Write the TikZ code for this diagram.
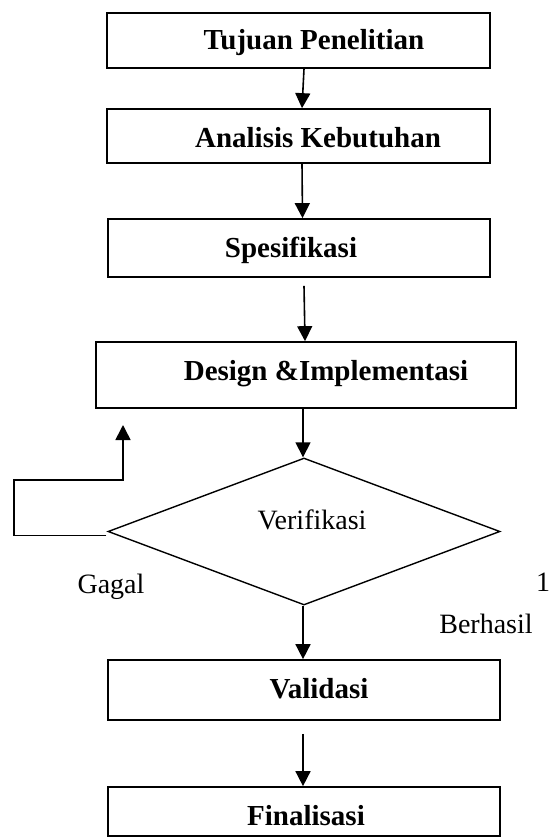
\documentclass[tikz,border=0pt]{standalone}
\usepackage{fontspec}
\setmainfont{Liberation Serif}
\usetikzlibrary{shapes.geometric,arrows.meta}
\tikzset{
  boxnode/.style={draw=black, line width=1.7pt, rectangle, inner sep=0pt},
  decnode/.style={draw=black, line width=1.4pt, diamond, inner sep=0pt},
  boldtxt/.style={inner sep=0pt, anchor=base, font=\fontsize{29}{34}\selectfont\bfseries},
  regtxt/.style={inner sep=0pt, anchor=base, font=\fontsize{28}{33}\selectfont},
  conn/.style={draw=black, line width=1.6pt},
  arr/.style={conn, -{Triangle[width=15pt,length=15pt]}}
}
\begin{document}
\begin{tikzpicture}[x=1pt,y=-1pt]
\useasboundingbox (0,0) rectangle (554,837);
% boxes
\node[boxnode, minimum width=383pt, minimum height=55pt] (b1) at (298.5,40.5) {};
\node[boxnode, minimum width=383pt, minimum height=54pt] (b2) at (298.5,136) {};
\node[boxnode, minimum width=382pt, minimum height=58pt] (b3) at (299,248) {};
\node[boxnode, minimum width=420pt, minimum height=66pt] (b4) at (306,375) {};
\node[decnode, minimum width=392pt, minimum height=147pt] (dia) at (304,531.5) {};
\node[boxnode, minimum width=392pt, minimum height=60pt] (b5) at (304,690) {};
\node[boxnode, minimum width=392pt, minimum height=49pt] (b6) at (304,811.5) {};
% texts
\node[boldtxt] (t1) at (314,50) {Tujuan Penelitian};
\node[boldtxt] (t2) at (318,148) {Analisis Kebutuhan};
\node[boldtxt] (t3) at (291,257) {Spesifikasi};
\node[boldtxt] (t4) at (326,380) {Design \&Implementasi};
\node[regtxt] (tv) at (312,529) {Verifikasi};
\node[regtxt] (tg) at (111,593) {Gagal};
\node[regtxt] (tn) at (543,591) {1};
\node[regtxt] (tb) at (486,633) {Berhasil};
\node[boldtxt] (t5) at (319,698) {Validasi};
\node[boldtxt] (t6) at (306,825) {Finalisasi};
% connectors
\draw[arr] ([xshift=5.5pt]b1.south) -- ([xshift=3.5pt]b2.north);
\draw[arr] ([xshift=3.5pt]b2.south) -- ([xshift=3.5pt]b3.north);
\draw[arr] ([xshift=5pt,yshift=-8pt]b3.south) -- ([xshift=-1pt]b4.north);
\draw[arr] ([xshift=-3pt]b4.south) -- ([xshift=-1pt]dia.north);
\draw[arr] ([xshift=-1pt]dia.south) -- ([xshift=-1pt]b5.north);
\draw[arr] ([xshift=-1pt,yshift=-13pt]b5.south) -- ([xshift=-1pt]b6.north);
% loop back
\coordinate (c1) at (14,480);
\coordinate (lp) at (123,425);
\draw[arr] ([xshift=-1pt,yshift=-4pt]dia.west) -| (c1) -| (lp);
\end{tikzpicture}
\end{document}
